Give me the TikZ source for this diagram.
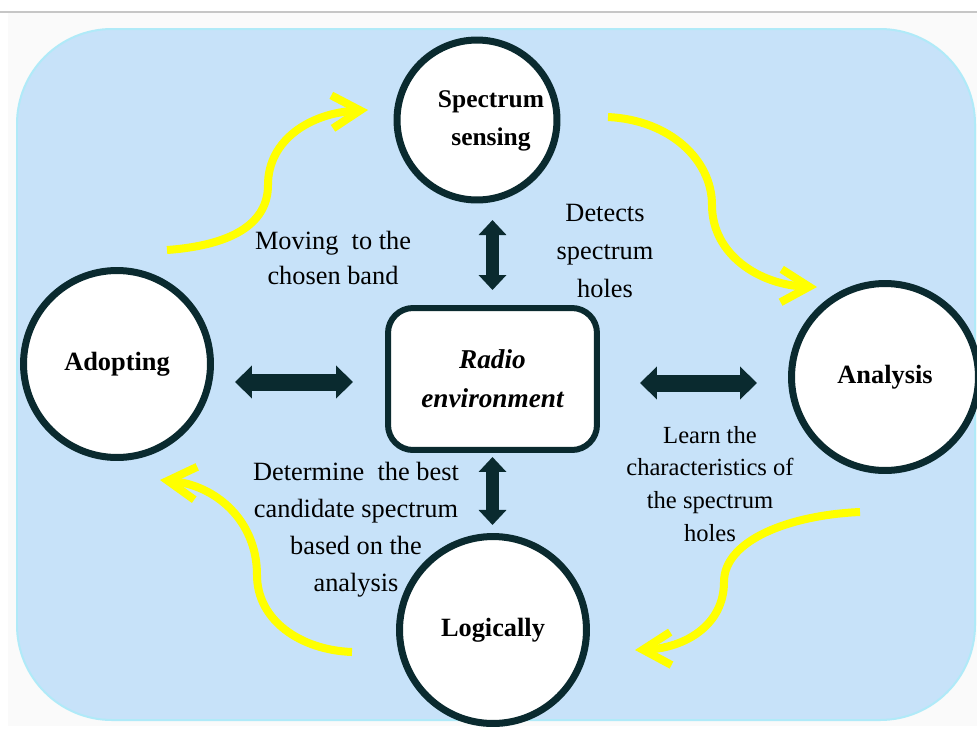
\documentclass[tikz,border=0pt]{standalone}
\usepackage{fontspec}
\setmainfont{Liberation Serif}
\usetikzlibrary{arrows.meta,calc}
\definecolor{bgblue}{HTML}{C7E2F9}
\definecolor{bgedge}{HTML}{B0EAF8}
\definecolor{darkline}{HTML}{0A2A2F}
\definecolor{yel}{HTML}{FFFF00}
\begin{document}
\begin{tikzpicture}[x=0.02cm,y=-0.02cm,
  phase/.style={circle, draw=darkline, fill=white, line width=0.14cm, inner sep=0pt,
    font=\fontsize{15}{21.5}\selectfont\bfseries, align=center},
  ptext/.style={font=\fontsize{14.5}{21.5}\selectfont\bfseries, align=center, inner sep=0pt},
  envbox/.style={rectangle, rounded corners=0.5cm, draw=darkline, fill=white, line width=0.12cm,
    minimum width=4.18cm, minimum height=2.84cm, align=center,
    font=\fontsize{15.5}{22}\selectfont\bfseries\itshape},
  lbl/.style={align=center, inner sep=0pt, text=black},
  blkh/.style={darkline, line width=0.34cm, {Triangle[length=0.34cm,width=0.64cm]}-{Triangle[length=0.34cm,width=0.64cm]}},
  blkv/.style={darkline, line width=0.25cm, {Triangle[length=0.3cm,width=0.54cm]}-{Triangle[length=0.3cm,width=0.54cm]}},
  cyc/.style={yel, line width=0.16cm, -{Straight Barb[length=0.56cm,width=0.66cm]}}
]
\useasboundingbox (0,0) rectangle (977,731);
\clip (0,0) rectangle (977,731);
\fill[white] (0,0) rectangle (977,731);
\fill[gray!4] (8,13) rectangle (977,726);
\draw[gray!45, line width=0.04cm] (0,12) -- (977,12);
\draw[bgedge, fill=bgblue, line width=0.04cm, rounded corners=1.9cm] (17,29) rectangle (975,720);

% phases
\node[phase, minimum size=3.2cm] (sense) at (477,120) {};
\node[ptext] (senseT) at (491,121) {Spectrum\\sensing};
\node[phase, minimum size=3.74cm] (adopt) at (117,364) {Adopting};
\node[phase, minimum size=3.74cm] (analysis) at (885,377) {Analysis};
\node[phase, minimum size=3.74cm] (logic) at (493,630) {Logically};
\node[envbox] (radio) at (492.5,379) {Radio\\environment};

% block arrows
\draw[blkh] ($(adopt.east|-radio.west)+(21,3)$) -- ($(radio.west)+(-32,3)$);
\draw[blkh] ($(radio.east)+(40,4)$) -- ($(analysis.west|-radio.east)+(-31,4)$);
\draw[blkv] ($(radio.north)+(0,-85)$) -- ($(radio.north)+(0,-15)$);
\draw[blkv] ($(radio.south)+(0,4)$) -- ($(radio.south)+(0,72)$);

% labels
\node[lbl, font=\fontsize{15}{20.4}\selectfont] (l1) at (333,258) {Moving~ to the\\chosen band};
\node[lbl, font=\fontsize{15}{21.5}\selectfont] (l2) at (605,251) {Detects\\spectrum\\holes};
\node[lbl, font=\fontsize{14}{18.7}\selectfont] (l3) at (710,484) {Learn the\\characteristics of\\the spectrum\\holes};
\node[lbl, font=\fontsize{15}{21}\selectfont] (l4) at (356,530) {Determine~ the best\\candidate spectrum\\based on the\\analysis};

% yellow cycle arrows
\coordinate (y1s) at (167,250);
\coordinate (y1e) at (368,110);
\coordinate (y2s) at (608,117);
\coordinate (y2e) at (817,287);
\coordinate (y3s) at (860,512);
\coordinate (y3e) at (635,650);
\coordinate (y4s) at (352,652);
\coordinate (y4e) at (160,480);
\draw[cyc] (y1s) .. controls (235,245) and (268,222) .. (268,185) .. controls (268,140) and (310,113) .. (y1e);
\draw[cyc] (y2s) .. controls (670,120) and (712,160) .. (712,205) .. controls (712,255) and (760,285) .. (y2e);
\draw[cyc] (y3s) .. controls (790,515) and (724,540) .. (724,582) .. controls (724,625) and (685,648) .. (y3e);
\draw[cyc] (y4s) .. controls (300,650) and (257,620) .. (257,575) .. controls (257,520) and (215,485) .. (y4e);
\end{tikzpicture}
\end{document}
